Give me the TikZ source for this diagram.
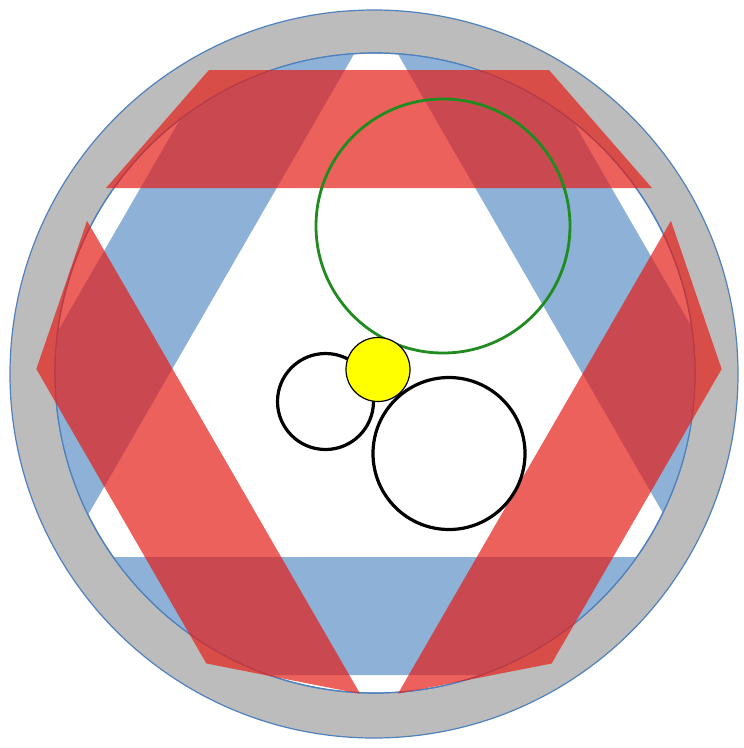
\documentclass[tikz,border=0pt]{standalone}
\usepackage{tikz}
\definecolor{ring}{RGB}{188,188,188}
\definecolor{rim}{RGB}{79,129,189}
\definecolor{band}{RGB}{141,177,215}
\definecolor{ribbon}{RGB}{229,30,24}
\definecolor{halo}{RGB}{32,140,32}
\definecolor{sun}{RGB}{255,255,0}

\begin{document}
\begin{tikzpicture}[x=1pt,y=-1pt,line join=miter]
\useasboundingbox (0,0) rectangle (744,748);
% rings
\draw[rim,fill=ring,line width=1.2pt] (374,374) circle (364);
\draw[rim,fill=white,line width=1.2pt] (375,373) circle (320);
% blue triangle band
\begin{scope}
  \clip (375,373) circle (320);
  \fill[band,even odd rule] (376,-220) -- (892.7,675) -- (-140.7,675) -- cycle
    (376,16) -- (688.3,557) -- (63.7,557) -- cycle;
\end{scope}
\draw[rim,line width=1.2pt] (375,373) circle (320);
% red ribbons
\foreach \a in {0,120,240}{
  \fill[ribbon,opacity=0.7,rotate around={\a:(379,367.5)}] (209,70) -- (549,70) -- (652,188) -- (106,188) -- cycle;
}
% circles
\draw[halo,line width=2.8pt] (443,226) circle (127);
\draw[line width=3.2pt] (325.5,401.5) circle (48) (449,453.5) circle (76);
\draw[fill=sun,line width=1.2pt] (378,369.5) circle (32);
\end{tikzpicture}
\end{document}
